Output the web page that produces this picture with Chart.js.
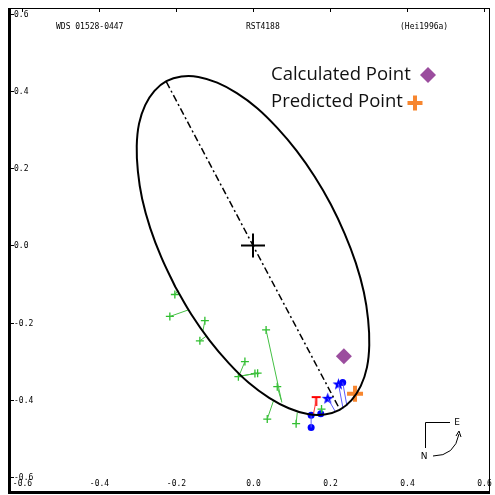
<!DOCTYPE html>
<html><head><meta charset="utf-8">
<script src="https://cdn.jsdelivr.net/npm/chart.js@4/dist/chart.umd.min.js"></script>
<style>html,body{margin:0;padding:0;background:#fff}canvas{display:block}</style>
</head><body><canvas id="c" width="495" height="495"></canvas>
<script>
// ---- data ----
const TICKS = [-0.6, -0.4, -0.2, 0.0, 0.2, 0.4, 0.6];
const TICK_LABELS = ['-0.6', '-0.4', '-0.2', '0.0', '0.2', '0.4', '0.6'];
const HEADER = ['WDS 01528-0447', 'RST4188', '(Hei1996a)'];
const LEGEND = ['Calculated Point', 'Predicted Point'];

// apparent orbit
const ORBIT_X = [-0.202,-0.238,-0.267,-0.288,-0.299,-0.302,-0.296,-0.280,-0.256,-0.225,-0.186,-0.142,-0.093,-0.042,0.011,0.063,0.113,0.160,0.202,0.238,0.267,0.288,0.299,0.302,0.296,0.280,0.256,0.225,0.186,0.142,0.093,0.042,-0.011,-0.063,-0.113,-0.160,-0.202];
const ORBIT_Y = [-0.107,-0.031,0.045,0.121,0.192,0.258,0.316,0.364,0.401,0.426,0.438,0.437,0.422,0.395,0.356,0.305,0.246,0.179,0.107,0.031,-0.045,-0.121,-0.192,-0.258,-0.316,-0.364,-0.401,-0.426,-0.438,-0.437,-0.422,-0.395,-0.356,-0.305,-0.246,-0.179,-0.107];

// line of nodes
const NODE_X = [-0.225, 0.225];
const NODE_Y = [0.424, -0.424];

// primary star
const PRIMARY_X = [0.0];
const PRIMARY_Y = [0.0];

// green observations (observed) and their orbit positions
const GREEN_OBS_X = [-0.203,-0.216,-0.125,-0.138,-0.021,-0.038,0.005,0.012,0.034,0.063,0.037,0.112,0.178];
const GREEN_OBS_Y = [-0.127,-0.184,-0.195,-0.247,-0.301,-0.340,-0.332,-0.331,-0.219,-0.366,-0.450,-0.462,-0.424];
const GREEN_FIT_X = [-0.195,-0.168,-0.130,-0.120,-0.034,-0.031,-0.031,-0.029,0.075,0.073,0.053,0.115,0.180];
const GREEN_FIT_Y = [-0.117,-0.167,-0.221,-0.234,-0.332,-0.335,-0.338,-0.338,-0.407,-0.400,-0.403,-0.433,-0.431];

// blue filled circles
const BLUE_DOT_X = [0.151, 0.151, 0.176, 0.233];
const BLUE_DOT_Y = [-0.472, -0.440, -0.436, -0.355];
const BLUE_DOT_FIT_X = [0.151, 0.151, 0.176, 0.244];
const BLUE_DOT_FIT_Y = [-0.440, -0.440, -0.436, -0.416];
// blue stars
const BLUE_STAR_X = [0.194, 0.222];
const BLUE_STAR_Y = [-0.396, -0.359];
const BLUE_STAR_FIT_X = [0.213, 0.234];
const BLUE_STAR_FIT_Y = [-0.429, -0.423];
// red T
const RED_X = [0.164];
const RED_Y = [-0.402];
const RED_FIT_X = [0.157];
const RED_FIT_Y = [-0.437];

const CALC_X = [0.236], CALC_Y = [-0.287];
const PRED_X = [0.265], PRED_Y = [-0.384];

// ---- helpers ----
function pts(xs, ys) { return xs.map((x, i) => ({x: x, y: ys[i]})); }
function segs(ax, ay, bx, by) {
  const out = [];
  ax.forEach((x, i) => { out.push({x: x, y: ay[i]}, {x: bx[i], y: by[i]}, {x: NaN, y: NaN}); });
  return out;
}
const tMark = (function(){
  const c = document.createElement('canvas'); c.width = 11; c.height = 11;
  const g = c.getContext('2d'); g.strokeStyle = '#ff0000'; g.lineWidth = 2;
  g.beginPath(); g.moveTo(1, 2); g.lineTo(10, 2); g.moveTo(5.5, 2); g.lineTo(5.5, 11); g.stroke();
  return c;
})();
const starMark = (function(){
  const c = document.createElement('canvas'); c.width = 13; c.height = 13;
  const g = c.getContext('2d'); g.fillStyle = '#0000ff';
  g.beginPath();
  for (let k = 0; k < 10; k++) {
    const r = k % 2 === 0 ? 6.3 : 2.6, ang = -Math.PI / 2 + k * Math.PI / 5;
    const px = 6.5 + r * Math.cos(ang), py = 7 + r * Math.sin(ang);
    if (k === 0) g.moveTo(px, py); else g.lineTo(px, py);
  }
  g.closePath(); g.fill();
  return c;
})();

const GREEN = '#2fbf2f', GREEN_LINE = '#44c044', BLUE = '#0000ff', BLUE_LINE = '#5a5aff';

const framePlugin = {
  id: 'frame',
  afterDraw(chart) {
    const ctx = chart.ctx, a = chart.chartArea, xs = chart.scales.x, ys = chart.scales.y;
    ctx.save();
    // frame
    ctx.strokeStyle = '#000';
    ctx.lineWidth = 1;
    ctx.beginPath(); ctx.moveTo(a.left, a.top + 0.5); ctx.lineTo(a.right, a.top + 0.5);
    ctx.moveTo(a.right - 0.5, a.top); ctx.lineTo(a.right - 0.5, a.bottom); ctx.stroke();
    ctx.lineWidth = 3;
    ctx.beginPath(); ctx.moveTo(a.left + 0.5, a.top); ctx.lineTo(a.left + 0.5, a.bottom + 1.5);
    ctx.lineTo(a.right, a.bottom + 1.5); ctx.stroke();
    // ticks + labels
    ctx.lineWidth = 1;
    ctx.fillStyle = '#000';
    ctx.font = '8px "DejaVu Sans Mono"';
    TICKS.forEach((v, i) => {
      const py = Math.round(ys.getPixelForValue(v)) + 0.5;
      ctx.beginPath(); ctx.moveTo(a.left + 2, py); ctx.lineTo(a.left + 5, py); ctx.stroke();
      ctx.textAlign = 'left'; ctx.textBaseline = 'middle';
      ctx.fillText(TICK_LABELS[i], a.left + 5, py);
      const px = Math.round(xs.getPixelForValue(v)) + 0.5;
      ctx.beginPath(); ctx.moveTo(px, a.top); ctx.lineTo(px, a.top + 4); ctx.stroke();
      ctx.textAlign = 'center'; ctx.textBaseline = 'middle';
      ctx.fillText(TICK_LABELS[i], px, a.bottom - 7);
    });
    // header
    ctx.textAlign = 'left'; ctx.textBaseline = 'middle';
    ctx.fillText(HEADER[0], a.left + 47, a.top + 19);
    ctx.fillText(HEADER[1], a.left + 237, a.top + 19);
    ctx.fillText(HEADER[2], a.left + 391, a.top + 19);
    // legend
    ctx.font = '18.5px "Open Sans"';
    ctx.fillStyle = '#111';
    ctx.fillText(LEGEND[0], a.left + 262, a.top + 67);
    ctx.fillText(LEGEND[1], a.left + 262, a.top + 94);
    // legend diamond
    const dx = a.left + 419, dy = a.top + 67;
    ctx.fillStyle = '#9b4d9e';
    ctx.beginPath(); ctx.moveTo(dx, dy - 8); ctx.lineTo(dx + 8, dy); ctx.lineTo(dx, dy + 8); ctx.lineTo(dx - 8, dy); ctx.closePath(); ctx.fill();
    // legend plus
    const ox = a.left + 406, oy = a.top + 95;
    ctx.strokeStyle = '#f7862f'; ctx.lineWidth = 4;
    ctx.beginPath(); ctx.moveTo(ox - 7.5, oy); ctx.lineTo(ox + 7.5, oy); ctx.moveTo(ox, oy - 7.5); ctx.lineTo(ox, oy + 7.5); ctx.stroke();
    // compass
    const cx = a.left + 416, cy = a.top + 414;
    ctx.strokeStyle = '#000'; ctx.lineWidth = 1; ctx.fillStyle = '#000';
    ctx.beginPath(); ctx.moveTo(cx + 25, cy + 0.5); ctx.lineTo(cx + 0.5, cy + 0.5); ctx.lineTo(cx + 0.5, cy + 26); ctx.stroke();
    ctx.font = '9px "DejaVu Sans"';
    ctx.textAlign = 'center';
    ctx.fillText('E', cx + 32, cy + 1);
    ctx.fillText('N', cx - 1, cy + 35);
    ctx.beginPath(); ctx.moveTo(cx + 8, cy + 34); ctx.quadraticCurveTo(cx + 30, cy + 34, cx + 34, cy + 12); ctx.stroke();
    ctx.beginPath(); ctx.moveTo(cx + 31, cy + 14); ctx.lineTo(cx + 34, cy + 9); ctx.lineTo(cx + 36, cy + 15); ctx.stroke();
    ctx.restore();
  }
};

new Chart(document.getElementById('c'), {
  type: 'scatter',
  data: {
    datasets: [
      { data: pts(ORBIT_X, ORBIT_Y), showLine: true, borderColor: '#000', borderWidth: 2, pointRadius: 0, tension: 0.4, fill: false },
      { data: pts(NODE_X, NODE_Y), showLine: true, borderColor: '#000', borderWidth: 1.5, borderDash: [7, 3, 2, 3], pointRadius: 0 },
      { data: segs(GREEN_OBS_X, GREEN_OBS_Y, GREEN_FIT_X, GREEN_FIT_Y), showLine: true, spanGaps: false, borderColor: GREEN_LINE, borderWidth: 1, pointRadius: 0 },
      { data: pts(GREEN_OBS_X, GREEN_OBS_Y), pointStyle: 'cross', pointRadius: 4, borderColor: GREEN, borderWidth: 1.3, backgroundColor: GREEN },
      { data: segs(BLUE_DOT_X, BLUE_DOT_Y, BLUE_DOT_FIT_X, BLUE_DOT_FIT_Y), showLine: true, spanGaps: false, borderColor: BLUE_LINE, borderWidth: 1, pointRadius: 0 },
      { data: segs(BLUE_STAR_X, BLUE_STAR_Y, BLUE_STAR_FIT_X, BLUE_STAR_FIT_Y), showLine: true, spanGaps: false, borderColor: BLUE_LINE, borderWidth: 1, pointRadius: 0 },
      { data: segs(RED_X, RED_Y, RED_FIT_X, RED_FIT_Y), showLine: true, spanGaps: false, borderColor: '#ff3030', borderWidth: 1, pointRadius: 0 },
      { data: pts(BLUE_DOT_X, BLUE_DOT_Y), pointStyle: 'circle', pointRadius: 3.5, borderColor: BLUE, backgroundColor: BLUE, borderWidth: 0 },
      { data: pts(BLUE_STAR_X, BLUE_STAR_Y), pointStyle: starMark, pointRadius: 6 },
      { data: pts(RED_X, RED_Y), pointStyle: tMark, pointRadius: 5 },
      { data: pts(PRIMARY_X, PRIMARY_Y), pointStyle: 'cross', pointRadius: 12, borderColor: '#000', borderWidth: 2 },
      { data: pts(CALC_X, CALC_Y), pointStyle: 'rectRot', pointRadius: 8, borderColor: '#9b4d9e', backgroundColor: '#9b4d9e', borderWidth: 0 },
      { data: pts(PRED_X, PRED_Y), pointStyle: 'cross', pointRadius: 8, borderColor: '#f7862f', borderWidth: 4 }
    ]
  },
  options: {
    responsive: false,
    animation: false,
    devicePixelRatio: 1,
    layout: { autoPadding: false, padding: { left: 9, top: 8, right: 5, bottom: 4 } },
    plugins: { legend: { display: false }, tooltip: { enabled: false } },
    scales: {
      x: { type: 'linear', min: -0.6338, max: 0.6156, display: false },
      y: { type: 'linear', min: -0.6364, max: 0.6156, display: false }
    }
  },
  plugins: [framePlugin]
});
</script>
</body></html>
